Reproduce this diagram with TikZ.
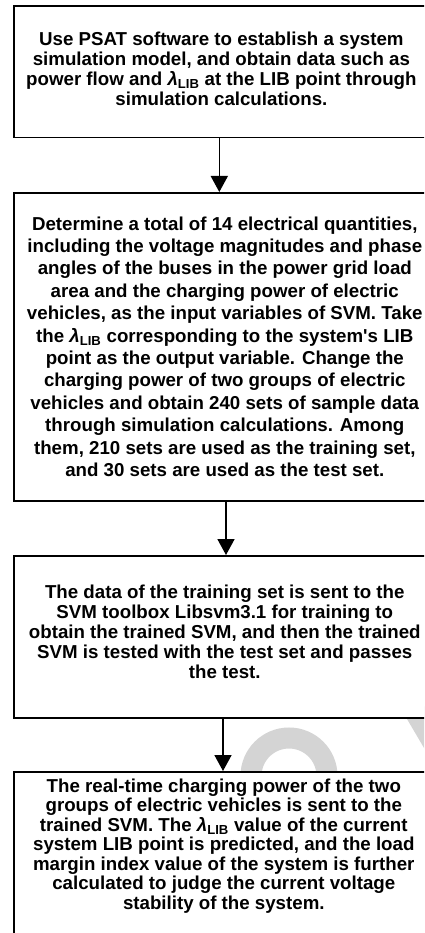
\documentclass[tikz,border=0pt]{standalone}
\usepackage{fontspec}
\setmainfont{Liberation Sans}[Ligatures=TeXOff]
\usetikzlibrary{arrows.meta}
\newcommand{\lamlib}{\textit{λ}\textsubscript{LIB}}
\begin{document}
\begin{tikzpicture}[x=1pt,y=-1pt,
  box/.style={draw, line width=1.6pt, fill=white, inner sep=0pt, anchor=north west,
    font=\fontsize{18.7}{19.9}\selectfont\bfseries},
  arr/.style={line width=1.6pt, -{Triangle[width=17pt,length=16pt]}},
  wm/.style={draw=black!17, line width=21pt}]
\useasboundingbox (0,0) rectangle (424,933);
\clip (0,0) rectangle (424,933);
\fill[white] (0,0) rectangle (424,933);
% watermark traces
\draw[wm] (289,776) circle (38);
\draw[wm] (408,700) -- (448,768);
% boxes
\node[box] (b1) at (13.3,5) {\parbox[c][131.7pt][t]{414.6pt}{\vspace*{26.4pt}\centering
Use PSAT software to establish a system\\
simulation model, and obtain data such as\\
power flow and \lamlib{} at the LIB point through\\
simulation calculations.}};
\node[box, font=\fontsize{18.7}{22.4}\selectfont\bfseries] (b2) at (13.3,192) {\parbox[c][308pt][t]{421.4pt}{\vspace*{23.7pt}\centering
Determine a total of 14 electrical quantities,\\
including the voltage magnitudes and phase\\
angles of the buses in the power grid load\\
area and the charging power of electric\\
vehicles, as the input variables of SVM. Take\\
the \lamlib{} corresponding to the system's LIB\\
point as the output variable. Change the\\
charging power of two groups of electric\\
vehicles and obtain 240 sets of sample data\\
through simulation calculations. Among\\
them, 210 sets are used as the training set,\\
and 30 sets are used as the test set.}};
\node[box] (b3) at (13.3,555) {\parbox[c][162pt][t]{421.4pt}{\vspace*{29.1pt}\centering
The data of the training set is sent to the\\
SVM toolbox Libsvm3.1 for training to\\
obtain the trained SVM, and then the trained\\
SVM is tested with the test set and passes\\
the test.}};
\node[box, font=\fontsize{18.7}{19.5}\selectfont\bfseries] (b4) at (13.3,771) {\parbox[c][200pt][t]{419.4pt}{\vspace*{6.9pt}\centering
The real-time charging power of the two\\
groups of electric vehicles is sent to the\\
trained SVM. The \lamlib{} value of the current\\
system LIB point is predicted, and the load\\
margin index value of the system is further\\
calculated to judge the current voltage\\
stability of the system.}};
% connectors
\coordinate (x1) at (219.3,0);
\coordinate (x2) at (226,0);
\coordinate (x3) at (223,0);
\draw[arr] (b1.south -| x1) -- (b2.north -| x1);
\draw[arr] (b2.south -| x2) -- (b3.north -| x2);
\draw[arr] (b3.south -| x3) -- (b4.north -| x3);
\end{tikzpicture}
\end{document}
